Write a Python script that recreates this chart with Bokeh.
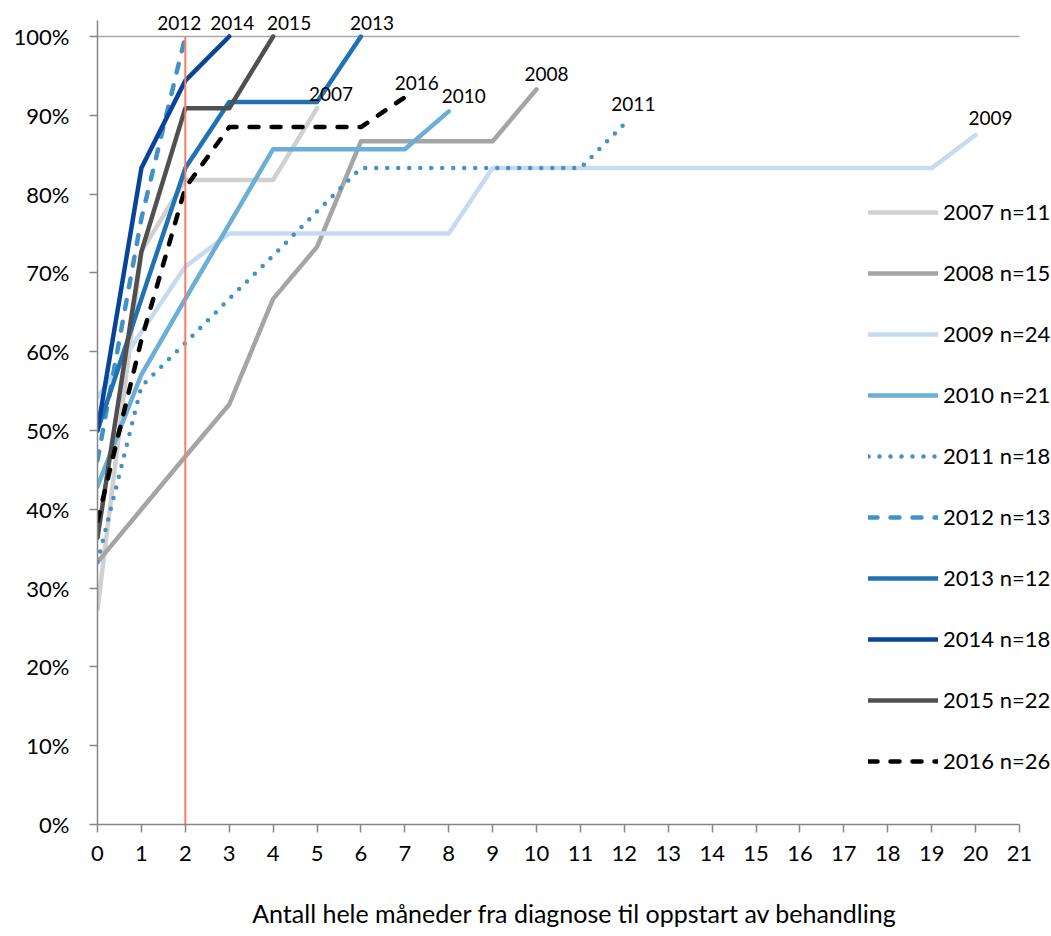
from bokeh.plotting import figure
from bokeh.models import (ColumnDataSource, Legend, LegendItem, FixedTicker,
                          NumeralTickFormatter, Segment)
from bokeh.core.properties import value
from bokeh.embed import file_html
from bokeh.resources import INLINE

# Cumulative share (%) of patients started on treatment, by whole months since diagnosis
years = ["2007", "2008", "2009", "2010", "2011", "2012", "2013", "2014", "2015", "2016"]
counts = [11, 15, 24, 21, 18, 13, 12, 18, 22, 26]

pct_2007 = [27.3, 72.7, 81.8, 81.8, 81.8, 90.9]
pct_2008 = [33.3, 40.0, 46.7, 53.3, 66.7, 73.3, 86.7, 86.7, 86.7, 86.7, 93.3]
pct_2009 = [54.2, 62.5, 70.8, 75.0, 75.0, 75.0, 75.0, 75.0, 75.0, 83.3, 83.3,
            83.3, 83.3, 83.3, 83.3, 83.3, 83.3, 83.3, 83.3, 83.3, 87.5]
pct_2010 = [42.9, 57.1, 66.7, 76.2, 85.7, 85.7, 85.7, 85.7, 90.5]
pct_2011 = [33.3, 55.6, 61.1, 66.7, 72.2, 77.8, 83.3, 83.3, 83.3, 83.3, 83.3, 83.3, 88.9]
pct_2012 = [46.2, 76.9, 100.0]
pct_2013 = [50.0, 66.7, 83.3, 91.7, 91.7, 91.7, 100.0]
pct_2014 = [50.0, 83.3, 94.4, 100.0]
pct_2015 = [36.4, 72.7, 90.9, 90.9, 100.0]
pct_2016 = [38.5, 61.5, 80.8, 88.5, 88.5, 88.5, 88.5, 92.3]

series = [pct_2007, pct_2008, pct_2009, pct_2010, pct_2011,
          pct_2012, pct_2013, pct_2014, pct_2015, pct_2016]

month_ticks = list(range(0, 22))
last_month = 21
target_month = 2
x_title = "Antall hele måneder fra diagnose til oppstart av behandling"

# Line styles per year
styles = {
    "2007": dict(color="#D0D0D0", dash="solid"),
    "2008": dict(color="#A5A5A5", dash="solid"),
    "2009": dict(color="#C6DBEF", dash="solid"),
    "2010": dict(color="#6BAED6", dash="solid"),
    "2011": dict(color="#4292C6", dash="0 11"),
    "2012": dict(color="#4292C6", dash="9 13"),
    "2013": dict(color="#2171B5", dash="solid"),
    "2014": dict(color="#08459A", dash="solid"),
    "2015": dict(color="#505050", dash="solid"),
    "2016": dict(color="#000000", dash="9 13"),
}
# Screen offsets (px) of the end-of-line year labels
label_dx = {"2007": 14, "2008": 10, "2009": 15, "2010": 15, "2011": 9,
            "2012": -6, "2013": 11, "2014": 3, "2015": 16, "2016": 12}
label_dy = {"2007": -14, "2008": -15, "2009": -17, "2010": -15, "2011": -20,
            "2012": -14, "2013": -14, "2014": -14, "2015": -14, "2016": -14}

FONT = "Lato"
AXIS_GREY = "#868686"

# Frame spans the full width/top so the legend and top labels are not clipped;
# axis bounds keep the drawn axes to 0..21 months and 0..102 %.
LEFT, AXIS_RIGHT, WIDTH = 97, 1019, 1051
x_end = last_month * (WIDTH - LEFT) / (AXIS_RIGHT - LEFT)
y_end = 1.0 + 36 / 788

p = figure(width=WIDTH, height=936, output_backend="svg", toolbar_location=None,
           x_range=(0, x_end), y_range=(0, y_end),
           min_border_left=LEFT, min_border_right=0,
           min_border_top=0, min_border_bottom=112)
p.outline_line_color = None
p.xgrid.visible = False
p.ygrid.visible = False
p.background_fill_color = "white"
p.border_fill_color = "white"

# Axes
p.xaxis.ticker = FixedTicker(ticks=month_ticks)
p.xaxis.bounds = (0, last_month)
p.yaxis.ticker = FixedTicker(ticks=[i / 10 for i in range(11)])
p.yaxis.bounds = (0, 1.02)
p.yaxis.formatter = NumeralTickFormatter(format="0%")
for ax in (p.xaxis[0], p.yaxis[0]):
    ax.axis_line_color = AXIS_GREY
    ax.axis_line_width = 1.5
    ax.major_tick_line_color = AXIS_GREY
    ax.major_tick_line_width = 1.5
    ax.major_tick_out = 8
    ax.major_tick_in = 0
    ax.minor_tick_line_color = None
    ax.major_label_text_font = FONT
    ax.major_label_text_font_size = "22px"
    ax.major_label_text_color = "#000000"
p.xaxis.major_label_standoff = 13
p.yaxis.major_label_standoff = 20
p.xaxis.axis_label = x_title
p.xaxis.axis_label_text_font = FONT
p.xaxis.axis_label_text_font_size = "25px"
p.xaxis.axis_label_text_font_style = "normal"
p.xaxis.axis_label_text_color = "#000000"
p.xaxis.axis_label_standoff = 34

# 100 % reference line
ref = ColumnDataSource(dict(x0=[0], y0=[1.0], x1=[last_month], y1=[1.0]))
p.add_glyph(ref, Segment(x0="x0", y0="y0", x1="x1", y1="y1",
                         line_color="#A6A6A6", line_width=1.5))

items = []
end_x, end_y, end_txt, dx, dy = [], [], [], [], []
for yr, n, vals in zip(years, counts, series):
    st = styles[yr]
    src = ColumnDataSource(dict(x=list(range(len(vals))), y=[v / 100 for v in vals]))
    r = p.line("x", "y", source=src, line_color=st["color"], line_width=4.5,
               line_dash=st["dash"], line_cap="round", line_join="round")
    items.append(LegendItem(label=f"{yr} n={n}", renderers=[r]))
    end_x.append(len(vals) - 1)
    end_y.append(vals[-1] / 100)
    end_txt.append(yr)
    dx.append(label_dx[yr])
    dy.append(label_dy[yr])

lab_src = ColumnDataSource(dict(x=end_x, y=end_y, t=end_txt, dx=dx, dy=dy))
p.text("x", "y", text="t", source=lab_src, x_offset="dx", y_offset="dy",
       text_font=value(FONT), text_font_size="19px", text_color="#000000",
       text_align="center", text_baseline="middle")

# Two-month target line
tgt = ColumnDataSource(dict(x0=[target_month], y0=[0.0], x1=[target_month], y1=[1.0]))
p.add_glyph(tgt, Segment(x0="x0", y0="y0", x1="x1", y1="y1",
                         line_color="#F77B68", line_width=2))

legend = Legend(items=items, location=(771, 50), orientation="vertical",
                glyph_width=70, glyph_height=20, label_height=20,
                label_standoff=5, spacing=34, padding=0, margin=0,
                border_line_color=None, background_fill_alpha=0,
                label_text_font=FONT, label_text_font_size="22px",
                label_text_color="#000000")
p.add_layout(legend, "center")

open("out.html", "w").write(file_html(p, INLINE))
